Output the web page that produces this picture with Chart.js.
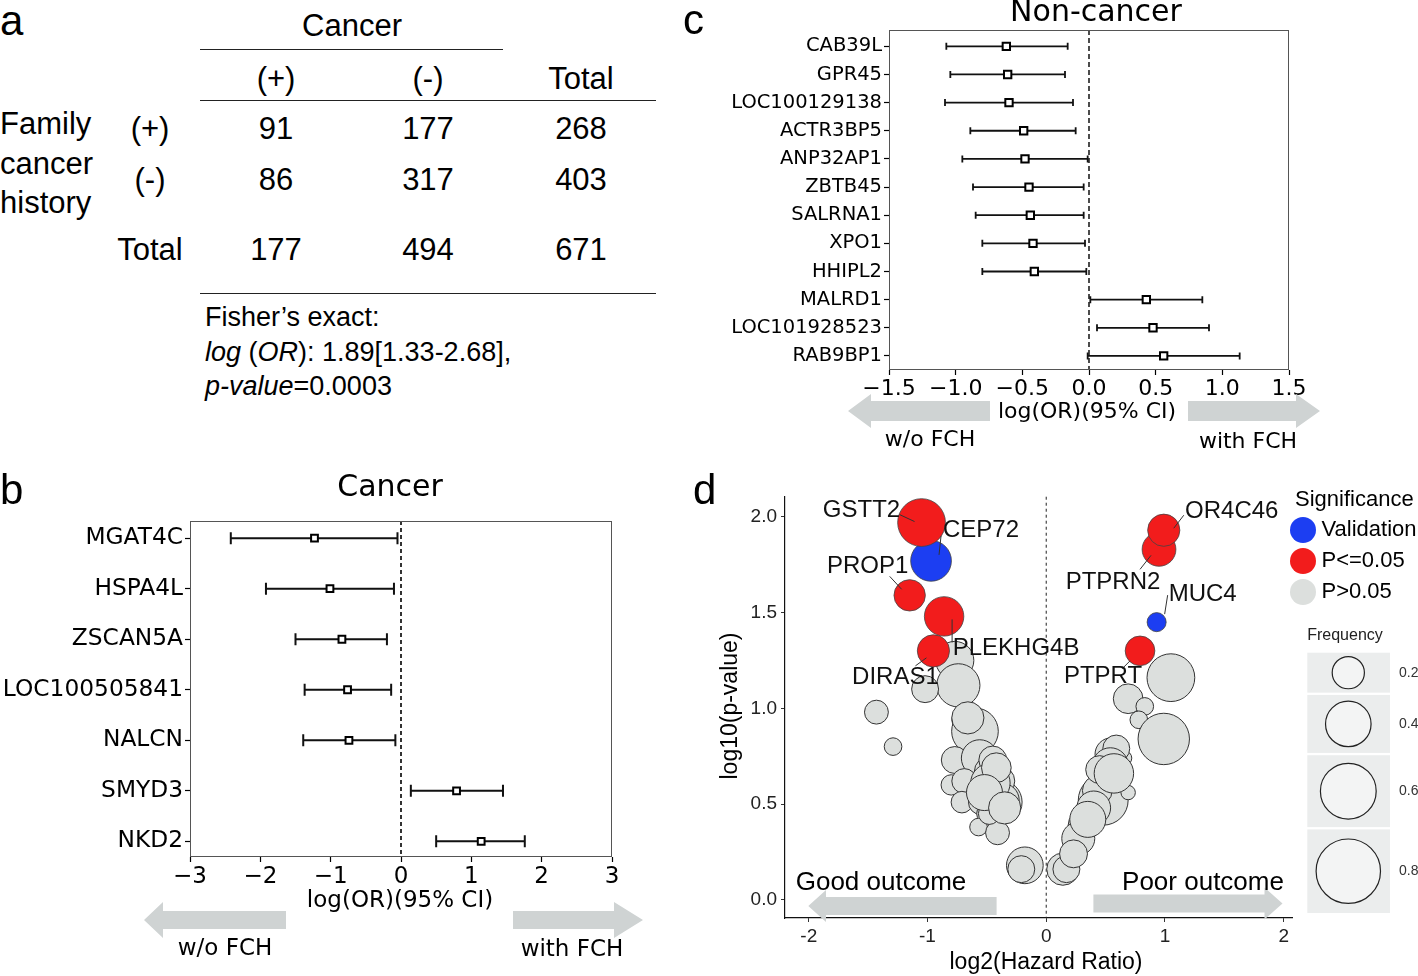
<!DOCTYPE html>
<html>
<head>
<meta charset="utf-8">
<title>Family cancer history</title>
<script src="https://cdn.jsdelivr.net/npm/chart.js@4.4.1/dist/chart.umd.min.js"></script>
<style>
  body { margin: 0; background: #fff; }
  #page { position: relative; width: 1418px; height: 976px; overflow: hidden; font-family: "Liberation Sans", Arial, sans-serif; color: #000; }
  .t { position: absolute; white-space: nowrap; line-height: 1; transform: translate(-50%, -50%); }
  .t.l { transform: translate(0, -50%); }
  .rule { position: absolute; height: 0; border-top: 1.5px solid #222; }
  canvas { position: absolute; }
</style>
</head>
<body>
<div id="page">
  <canvas id="chartB" width="680" height="506" style="left:0;top:470px"></canvas>
  <canvas id="chartC" width="728" height="460" style="left:690px;top:0"></canvas>
  <canvas id="chartD" width="728" height="506" style="left:690px;top:470px"></canvas>
</div>
<script>
// panel a: contingency table
const tableCols = ["(+)", "(-)", "Total"];
const famPos = [91, 177, 268];
const famNeg = [86, 317, 403];
const colTotal = [177, 494, 671];

// panel b: cancer
const cancerGenes = ["MGAT4C", "HSPA4L", "ZSCAN5A", "LOC100505841", "NALCN", "SMYD3", "NKD2"];
const cancerOR = [-1.23, -1.01, -0.84, -0.76, -0.74, 0.79, 1.14];
const cancerLow = [-2.42, -1.92, -1.50, -1.37, -1.39, 0.14, 0.50];
const cancerHigh = [-0.05, -0.10, -0.20, -0.14, -0.08, 1.45, 1.76];
const cancerTicks = [-3, -2, -1, 0, 1, 2, 3];

// panel c: non-cancer
const nonCancerGenes = ["CAB39L", "GPR45", "LOC100129138", "ACTR3BP5", "ANP32AP1", "ZBTB45",
  "SALRNA1", "XPO1", "HHIPL2", "MALRD1", "LOC101928523", "RAB9BP1"];
const nonCancerOR = [-0.62, -0.61, -0.60, -0.49, -0.48, -0.45, -0.44, -0.42, -0.41, 0.43, 0.48, 0.56];
const nonCancerLow = [-1.07, -1.04, -1.08, -0.89, -0.95, -0.87, -0.85, -0.80, -0.80, 0.01, 0.06, -0.01];
const nonCancerHigh = [-0.16, -0.18, -0.12, -0.10, -0.01, -0.04, -0.04, -0.03, -0.02, 0.85, 0.90, 1.13];
const nonCancerTicks = [-1.5, -1.0, -0.5, 0.0, 0.5, 1.0, 1.5];

// panel d: log2(HR) vs log10(p), bubble size = frequency
const redGenes = ["GSTT2", "PROP1", "PLEKHG4B", "DIRAS1", "PTPRN2", "OR4C46", "PTPRT"];
const redHR = [-1.05, -1.15, -0.86, -0.95, 0.95, 0.99, 0.79];
const redP = [1.97, 1.59, 1.48, 1.30, 1.83, 1.93, 1.30];
const redFreq = [0.44, 0.19, 0.30, 0.20, 0.22, 0.20, 0.17];

const blueGenes = ["CEP72", "MUC4"];
const blueHR = [-0.97, 0.93];
const blueP = [1.77, 1.45];
const blueFreq = [0.32, 0.07];

const greyHR = [-0.77, -0.74, -1.02, -1.43, -1.29, -0.67, -0.60, -0.77, -0.56, -0.48, -0.80, -0.69, -0.48,
  -0.39, -0.71, -0.55, -0.50, -0.57, -0.41, -0.18, -0.21, -0.48, -0.39, -0.37, -0.45,
  -0.47, -0.42, -0.66, -0.52, -0.35,
  1.05, 0.69, 0.83, 0.78, 0.99, 0.55, 0.66, 0.59, 0.51, 0.50, 0.48, 0.69, 0.37, 0.31, 0.27,
  0.14, 0.17, 0.43, 0.54, 0.45, 0.23, 0.57, 0.40, 0.35];
const greyP = [1.25, 1.12, 1.10, 0.98, 0.80, 0.94, 0.88, 0.73, 0.74, 0.67, 0.60, 0.62, 0.59,
  0.51, 0.51, 0.51, 0.45, 0.38, 0.35, 0.18, 0.16, 0.45, 0.62, 0.52, 0.73,
  0.61, 0.69, 0.95, 0.56, 0.48,
  1.16, 1.05, 1.01, 0.94, 0.84, 0.76, 0.74, 0.79, 0.61, 0.62, 0.52, 0.56, 0.43, 0.39, 0.32,
  0.16, 0.16, 0.57, 0.70, 0.68, 0.24, 0.66, 0.48, 0.42];
const greyFreq = [0.28, 0.36, 0.14, 0.11, 0.06, 0.17, 0.42, 0.14, 0.26, 0.17, 0.08, 0.12, 0.21,
  0.38, 0.09, 0.12, 0.08, 0.06, 0.11, 0.26, 0.14, 0.09, 0.17, 0.22, 0.15,
  0.30, 0.17, 0.20, 0.25, 0.20,
  0.44, 0.17, 0.06, 0.06, 0.51, 0.21, 0.04, 0.14, 0.21, 0.08, 0.48, 0.04, 0.08, 0.17, 0.21,
  0.20, 0.14, 0.17, 0.25, 0.15, 0.15, 0.30, 0.22, 0.25];
const freqLegend = [0.2, 0.4, 0.6, 0.8];
const hrTicks = [-2, -1, 0, 1, 2];
const pTicks = [0, 0.5, 1.0, 1.5, 2.0];

const ARROW = "#cfd3d3";

// ---------- panel a (plain text) ----------
const page = document.getElementById("page");
function txt(s, x, y, size, left) {
  const d = document.createElement("div");
  d.className = left ? "t l" : "t";
  d.style.left = x + "px";
  d.style.top = y + "px";
  d.style.fontSize = size + "px";
  d.innerHTML = s;
  page.appendChild(d);
}
function rule(x, y, w) {
  const d = document.createElement("div");
  d.className = "rule";
  d.style.left = x + "px";
  d.style.top = y + "px";
  d.style.width = w + "px";
  page.appendChild(d);
}

txt("a", 0, 21, 42, true);
txt("b", 0, 490, 42, true);
txt("c", 683, 20, 42, true);
txt("d", 693, 490, 42, true);

const colX = [276, 428, 581];
txt("Cancer", 352, 25, 31);
rule(200, 49, 303);
tableCols.forEach((c, i) => txt(c, colX[i], 78, 31));
rule(200, 100, 456);
txt("Family", 0, 123, 31, true);
txt("cancer", 0, 163, 31, true);
txt("history", 0, 202, 31, true);
txt("(+)", 150, 128, 31);
txt("(-)", 150, 179, 31);
txt("Total", 150, 249, 31);
famPos.forEach((v, i) => txt(v, colX[i], 128, 31));
famNeg.forEach((v, i) => txt(v, colX[i], 179, 31));
colTotal.forEach((v, i) => txt(v, colX[i], 249, 31));
rule(200, 293, 456);
txt("Fisher\u2019s exact:", 205, 317, 27, true);
txt("<i>log</i> (<i>OR</i>): 1.89[1.33-2.68],", 205, 352, 27, true);
txt("<i>p-value</i>=0.0003", 205, 386, 27, true);

// ---------- helpers ----------
function arrow(ctx, tail, base, tip, y, bh, hh) {
  ctx.fillStyle = ARROW;
  ctx.beginPath();
  ctx.moveTo(tail, y - bh);
  ctx.lineTo(base, y - bh);
  ctx.lineTo(base, y - hh);
  ctx.lineTo(tip, y);
  ctx.lineTo(base, y + hh);
  ctx.lineTo(base, y + bh);
  ctx.lineTo(tail, y + bh);
  ctx.closePath();
  ctx.fill();
}
const minus = s => String(s).replace("-", "\u2212");

// ---------- forest plots (b, c) ----------
function forestDecor(o, low, high) {
  return {
    id: "forestDecor",
    beforeDatasetsDraw(chart) {
      const { ctx, chartArea: a, scales: { x, y } } = chart;
      ctx.save();
      ctx.strokeStyle = "#000";
      ctx.lineWidth = o.zeroWidth;
      ctx.setLineDash(o.zeroDash);
      const x0 = x.getPixelForValue(0);
      ctx.beginPath();
      ctx.moveTo(x0, a.top);
      ctx.lineTo(x0, a.bottom);
      ctx.stroke();
      ctx.setLineDash([]);
      ctx.lineWidth = o.barWidth;
      ctx.strokeStyle = "#111";
      low.forEach((lo, i) => {
        const py = y.getPixelForValue(i);
        const x1 = x.getPixelForValue(lo), x2 = x.getPixelForValue(high[i]);
        ctx.beginPath();
        ctx.moveTo(x1, py); ctx.lineTo(x2, py);
        ctx.moveTo(x1, py - o.cap); ctx.lineTo(x1, py + o.cap);
        ctx.moveTo(x2, py - o.cap); ctx.lineTo(x2, py + o.cap);
        ctx.stroke();
      });
      ctx.restore();
    },
    afterDraw(chart) {
      const { ctx, chartArea: a } = chart;
      ctx.save();
      ctx.strokeStyle = "#555";
      ctx.lineWidth = 1;
      ctx.strokeRect(a.left + 0.5, a.top + 0.5, a.width - 1, a.height - 1);
      ctx.fillStyle = "#000";
      ctx.textAlign = "center";
      ctx.textBaseline = "middle";
      ctx.font = o.titleSize + 'px "DejaVu Sans"';
      ctx.fillText(o.title, o.titlePos[0], o.titlePos[1]);
      ctx.font = o.axisSize + 'px "DejaVu Sans"';
      ctx.fillText("log(OR)(95% CI)", o.axisPos[0], o.axisPos[1]);
      arrow(ctx, ...o.leftArrow);
      arrow(ctx, ...o.rightArrow);
      ctx.fillStyle = "#000";
      ctx.font = o.axisSize + 'px "DejaVu Sans"';
      ctx.fillText("w/o FCH", o.woPos[0], o.woPos[1]);
      ctx.fillText("with FCH", o.withPos[0], o.withPos[1]);
      ctx.restore();
    }
  };
}

function forestChart(id, genes, est, low, high, ticks, o) {
  const tickGrid = { drawOnChartArea: false, drawTicks: true, tickLength: 5, color: "#000", tickWidth: 1.2 };
  return new Chart(document.getElementById(id), {
    type: "scatter",
    data: {
      datasets: [{
        data: est.map((v, i) => ({ x: v, y: i })),
        pointStyle: "rect",
        pointRadius: o.marker,
        backgroundColor: "#fff",
        borderColor: "#000",
        borderWidth: 2
      }]
    },
    options: {
      responsive: false,
      animation: false,
      events: [],
      layout: { padding: { top: o.top, right: o.right, left: 0, bottom: 0 } },
      plugins: { legend: { display: false }, tooltip: { enabled: false } },
      scales: {
        x: {
          type: "linear",
          min: ticks[0],
          max: ticks[ticks.length - 1],
          afterBuildTicks: s => { s.ticks = ticks.map(v => ({ value: v })); },
          afterFit: s => { s.height = o.xAxisH; },
          grid: tickGrid,
          border: { display: false },
          ticks: {
            autoSkip: false, maxRotation: 0, padding: 1, color: "#000",
            font: { family: "DejaVu Sans", size: o.tickSize },
            callback: v => minus(o.fmt(v))
          }
        },
        y: {
          type: "linear",
          reverse: true,
          min: -o.rowPad[0],
          max: genes.length - 1 + o.rowPad[1],
          afterBuildTicks: s => { s.ticks = genes.map((g, i) => ({ value: i })); },
          afterFit: s => { s.width = o.yAxisW; },
          grid: tickGrid,
          border: { display: false },
          ticks: {
            autoSkip: false, padding: 2, color: "#000",
            font: { family: "DejaVu Sans", size: o.labelSize },
            callback: v => genes[v]
          }
        }
      }
    },
    plugins: [forestDecor(o, low, high)]
  });
}

forestChart("chartB", cancerGenes, cancerOR, cancerLow, cancerHigh, cancerTicks, {
  top: 51, right: 68, xAxisH: 119, yAxisW: 190, rowPad: [0.34, 0.31],
  marker: 4.8, barWidth: 2, cap: 6, zeroWidth: 1.6, zeroDash: [4, 3],
  tickSize: 23, labelSize: 23.3, titleSize: 30, axisSize: 23,
  fmt: v => String(v),
  title: "Cancer", titlePos: [390, 18], axisPos: [400, 431],
  leftArrow: [286, 163, 144, 450, 9, 18], rightArrow: [513, 614, 643, 450, 9, 18],
  woPos: [225, 479], withPos: [572, 480]
});

forestChart("chartC", nonCancerGenes, nonCancerOR, nonCancerLow, nonCancerHigh, nonCancerTicks, {
  top: 30, right: 129, xAxisH: 90, yAxisW: 199, rowPad: [0.58, 0.5],
  marker: 5.2, barWidth: 1.8, cap: 3.5, zeroWidth: 1.4, zeroDash: [5, 3],
  tickSize: 22, labelSize: 19.5, titleSize: 30, axisSize: 22,
  fmt: v => v.toFixed(1),
  title: "Non-cancer", titlePos: [406, 13], axisPos: [397, 412],
  leftArrow: [300, 181, 158, 411, 10, 17], rightArrow: [498, 606, 630, 411, 10, 17],
  woPos: [240, 440], withPos: [558, 442]
});

// ---------- panel d ----------
const sizeOf = f => 36 * Math.sqrt(f);
const toBubbles = (hr, p, fr) => hr.map((v, i) => ({ x: v, y: p[i], r: sizeOf(fr[i]) }));

// label text offset (dx, dy) and leader line [x1, y1, x2, y2], px from bubble centre
const geneLabels = [
  { gene: "GSTT2", dx: -60, dy: -12, line: [-22, -8, -7, -1] },
  { gene: "CEP72", dx: 50, dy: -30, line: [10, -25, 8, -6] },
  { gene: "PROP1", dx: -42, dy: -29, line: [-20, -19, -8, -6] },
  { gene: "PLEKHG4B", dx: 72, dy: 32, line: [8, 3, 8, 26] },
  { gene: "DIRAS1", dx: -38, dy: 27, line: [-18, 15, -7, 7] },
  { gene: "OR4C46", dx: 68, dy: -19, line: [20, -15, 10, -2] },
  { gene: "PTPRN2", dx: -46, dy: 33, line: [-19, 20, -8, 6] },
  { gene: "MUC4", dx: 46, dy: -28, line: [11, -27, 8, -8] },
  { gene: "PTPRT", dx: -37, dy: 26, line: [-18, 18, -10, 10] }
];

const COLORS = { red: "#f21c1c", blue: "#1c3ef2", grey: "#dcdfdd" };

const dDecor = {
  id: "dDecor",
  beforeDatasetsDraw(chart) {
    const { ctx, chartArea: a, scales: { x } } = chart;
    ctx.save();
    ctx.strokeStyle = "#222";
    ctx.lineWidth = 1;
    ctx.setLineDash([3, 3]);
    const x0 = x.getPixelForValue(0);
    ctx.beginPath();
    ctx.moveTo(x0, a.top);
    ctx.lineTo(x0, a.bottom);
    ctx.stroke();
    ctx.setLineDash([]);
    arrow(ctx, 306.6, 136, 118.3, 436, 9, 16);
    arrow(ctx, 403.4, 574.5, 592.5, 433.5, 9, 16);
    ctx.fillStyle = "#000";
    ctx.font = '26px "Liberation Sans"';
    ctx.textAlign = "center";
    ctx.textBaseline = "middle";
    ctx.fillText("Good outcome", 191, 413);
    ctx.fillText("Poor outcome", 513, 413);
    ctx.restore();
  },
  afterDatasetsDraw(chart) {
    const { ctx, scales: { x, y } } = chart;
    ctx.save();
    ctx.strokeStyle = "#333";
    ctx.lineWidth = 1;
    ctx.fillStyle = "#111";
    ctx.font = '24px "Liberation Sans"';
    ctx.textAlign = "center";
    ctx.textBaseline = "middle";
    geneLabels.forEach(lb => {
      let i = redGenes.indexOf(lb.gene), hr, p;
      if (i >= 0) { hr = redHR[i]; p = redP[i]; }
      else { i = blueGenes.indexOf(lb.gene); hr = blueHR[i]; p = blueP[i]; }
      const cx = x.getPixelForValue(hr), cy = y.getPixelForValue(p);
      ctx.beginPath();
      ctx.moveTo(cx + lb.line[0], cy + lb.line[1]);
      ctx.lineTo(cx + lb.line[2], cy + lb.line[3]);
      ctx.stroke();
      ctx.fillText(lb.gene, cx + lb.dx, cy + lb.dy);
    });
    ctx.restore();
  },
  afterDraw(chart) {
    const { ctx } = chart;
    ctx.save();
    ctx.fillStyle = "#000";
    ctx.textBaseline = "middle";
    ctx.textAlign = "center";
    ctx.font = '23px "Liberation Sans"';
    ctx.fillText("log2(Hazard Ratio)", 356, 493);
    ctx.save();
    ctx.translate(41, 236);
    ctx.rotate(-Math.PI / 2);
    ctx.fillText("log10(p-value)", 0, 0);
    ctx.restore();

    // significance legend
    ctx.textAlign = "left";
    ctx.font = '22px "Liberation Sans"';
    ctx.fillText("Significance", 605, 30);
    [["Validation", COLORS.blue], ["P<=0.05", COLORS.red], ["P>0.05", COLORS.grey]].forEach(([lab, col], i) => {
      const yy = 60 + i * 31;
      ctx.fillStyle = col;
      ctx.beginPath();
      ctx.arc(613, yy, 13, 0, Math.PI * 2);
      ctx.fill();
      ctx.fillStyle = "#000";
      ctx.fillText(lab, 631.5, yy);
    });

    // frequency legend
    ctx.textAlign = "center";
    ctx.font = '16px "Liberation Sans"';
    ctx.fillStyle = "#222";
    ctx.fillText("Frequency", 655, 166);
    let top = 182.7;
    ctx.font = '14px "Liberation Sans"';
    freqLegend.forEach(f => {
      const r = sizeOf(f);
      const h = 2.71 * r - 3.7;
      ctx.fillStyle = "#ebeded";
      ctx.fillRect(617.3, top, 82.7, h);
      const cy = top + h / 2;
      ctx.fillStyle = "#f3f4f4";
      ctx.strokeStyle = "#222";
      ctx.lineWidth = 1.2;
      ctx.beginPath();
      ctx.arc(658.3, cy, r, 0, Math.PI * 2);
      ctx.fill();
      ctx.stroke();
      ctx.fillStyle = "#333";
      ctx.textAlign = "left";
      ctx.fillText(f.toFixed(1), 709, cy);
      top += h + 2.3;
    });
    ctx.restore();
  }
};

const axisGrid = { drawOnChartArea: false, drawTicks: true, tickLength: 4, color: "#333", tickWidth: 1 };
new Chart(document.getElementById("chartD"), {
  type: "bubble",
  data: {
    datasets: [
      { label: "P<=0.05", data: toBubbles(redHR, redP, redFreq), backgroundColor: COLORS.red, borderColor: "#444", borderWidth: 0.8 },
      { label: "Validation", data: toBubbles(blueHR, blueP, blueFreq), backgroundColor: COLORS.blue, borderColor: "#444", borderWidth: 0.8 },
      { label: "P>0.05", data: toBubbles(greyHR, greyP, greyFreq), backgroundColor: COLORS.grey, borderColor: "#333", borderWidth: 1 }
    ]
  },
  options: {
    responsive: false,
    animation: false,
    events: [],
    layout: { padding: { top: 20, right: 126, left: 0, bottom: 0 } },
    plugins: { legend: { display: false }, tooltip: { enabled: false } },
    scales: {
      x: {
        type: "linear", min: -2.2, max: 2.07,
        afterBuildTicks: s => { s.ticks = hrTicks.map(v => ({ value: v })); },
        afterFit: s => { s.height = 58; },
        grid: axisGrid,
        border: { display: true, color: "#111", width: 1.2 },
        ticks: { autoSkip: false, maxRotation: 0, padding: 3, color: "#222", font: { family: "Liberation Sans", size: 19 }, callback: v => String(v) }
      },
      y: {
        type: "linear", min: -0.095, max: 2.105,
        afterBuildTicks: s => { s.ticks = pTicks.map(v => ({ value: v })); },
        afterFit: s => { s.width = 95; },
        grid: axisGrid,
        border: { display: true, color: "#111", width: 1.2 },
        ticks: { autoSkip: false, padding: 4, color: "#222", font: { family: "Liberation Sans", size: 19 }, callback: v => v.toFixed(1) }
      }
    }
  },
  plugins: [dDecor]
});
</script>
</body>
</html>
